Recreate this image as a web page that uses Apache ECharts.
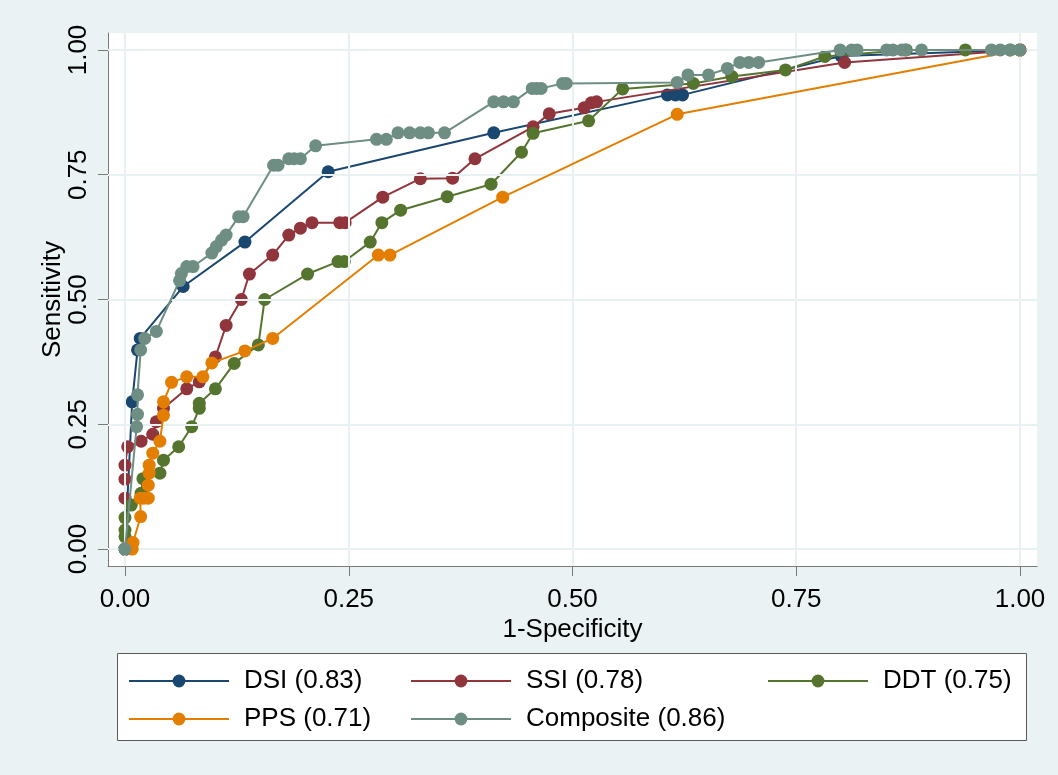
<!DOCTYPE html>
<html><head><meta charset="utf-8">
<script src="https://cdn.jsdelivr.net/npm/echarts@6/dist/echarts.min.js"></script>
<style>html,body{margin:0;padding:0;background:#eaf2f3}#c{width:1058px;height:775px}</style>
</head><body><div id="c"></div>
<script>
const tickValues = [0, 0.25, 0.5, 0.75, 1];
const seriesNames = ['DSI (0.83)', 'SSI (0.78)', 'DDT (0.75)', 'PPS (0.71)', 'Composite (0.86)'];
const seriesColors = ['#1a476f', '#90353b', '#55752f', '#e37e00', '#6e8e84'];

const dsiX = [0, 0.008, 0.014, 0.017, 0.065, 0.134, 0.227, 0.412, 0.606, 0.615, 0.623, 0.80, 1.0];
const dsiY = [0, 0.295, 0.399, 0.422, 0.526, 0.615, 0.756, 0.834, 0.910, 0.910, 0.910, 0.988, 1.0];

const ssiX = [0, 0, 0, 0, 0.003, 0.018, 0.031, 0.035, 0.043, 0.069, 0.083, 0.101, 0.113, 0.130, 0.139, 0.165, 0.183, 0.196, 0.209, 0.240, 0.246, 0.288, 0.330, 0.366, 0.391, 0.456, 0.474, 0.513, 0.521, 0.527, 0.804, 1.0];
const ssiY = [0, 0.102, 0.140, 0.168, 0.205, 0.216, 0.230, 0.255, 0.282, 0.321, 0.335, 0.385, 0.448, 0.500, 0.551, 0.589, 0.629, 0.643, 0.654, 0.654, 0.654, 0.705, 0.742, 0.743, 0.782, 0.846, 0.872, 0.884, 0.894, 0.896, 0.975, 1.0];

const ddtX = [0, 0, 0, 0, 0.007, 0.018, 0.020, 0.039, 0.043, 0.060, 0.0745, 0.083, 0.083, 0.101, 0.122, 0.149, 0.156, 0.204, 0.238, 0.245, 0.274, 0.287, 0.308, 0.360, 0.409, 0.443, 0.456, 0.518, 0.556, 0.635, 0.678, 0.738, 0.782, 0.873, 0.939, 0.989, 1.0];
const ddtY = [0, 0.025, 0.038, 0.063, 0.088, 0.112, 0.141, 0.152, 0.178, 0.205, 0.245, 0.282, 0.292, 0.321, 0.372, 0.409, 0.500, 0.551, 0.576, 0.576, 0.615, 0.654, 0.679, 0.706, 0.731, 0.795, 0.833, 0.858, 0.922, 0.933, 0.947, 0.960, 0.987, 1.0, 1.0, 1.0, 1.0];

const ppsX = [0.008, 0.009, 0.0175, 0.017, 0.021, 0.026, 0.026, 0.027, 0.027, 0.031, 0.039, 0.043, 0.043, 0.052, 0.069, 0.087, 0.097, 0.134, 0.165, 0.283, 0.296, 0.422, 0.617, 1.0];
const ppsY = [0, 0.013, 0.065, 0.102, 0.102, 0.102, 0.128, 0.152, 0.168, 0.192, 0.216, 0.268, 0.295, 0.334, 0.345, 0.345, 0.373, 0.397, 0.422, 0.589, 0.589, 0.705, 0.871, 1.0];

const compX = [0, 0.013, 0.014, 0.014, 0.0175, 0.022, 0.035, 0.061, 0.063, 0.069, 0.076, 0.097, 0.102, 0.108, 0.113, 0.127, 0.132, 0.166, 0.171, 0.183, 0.189, 0.196, 0.213, 0.281, 0.292, 0.305, 0.318, 0.330, 0.339, 0.357, 0.412, 0.423, 0.434, 0.455, 0.460, 0.465, 0.489, 0.493, 0.617, 0.629, 0.652, 0.673, 0.687, 0.697, 0.708, 0.799, 0.812, 0.818, 0.851, 0.858, 0.868, 0.872, 0.890, 0.968, 0.978, 0.989, 1.0];
const compY = [0, 0.245, 0.270, 0.309, 0.399, 0.422, 0.436, 0.538, 0.552, 0.566, 0.566, 0.593, 0.606, 0.619, 0.629, 0.666, 0.666, 0.769, 0.769, 0.782, 0.782, 0.782, 0.808, 0.821, 0.821, 0.834, 0.834, 0.834, 0.834, 0.834, 0.896, 0.896, 0.896, 0.923, 0.923, 0.923, 0.933, 0.933, 0.935, 0.950, 0.950, 0.963, 0.975, 0.975, 0.975, 1.0, 1.0, 1.0, 1.0, 1.0, 1.0, 1.0, 1.0, 1.0, 1.0, 1.0, 1.0];

const allX = [dsiX, ssiX, ddtX, ppsX, compX];
const allY = [dsiY, ssiY, ddtY, ppsY, compY];

const FONT = "'Liberation Sans', Arial, sans-serif";
const pairs = (xs, ys) => xs.map((x, i) => [x, ys[i]]);
const fmt = v => Number(v).toFixed(2);

const gridColor = '#e8f0f2';
const axisColor = '#7a7a7a';

const series = [{
  type: 'line', data: [], silent: true, z: 0,
  markLine: {
    silent: true, symbol: ['none', 'none'], label: { show: false },
    lineStyle: { color: gridColor, width: 2, type: 'solid' },
    emphasis: { disabled: true },
    data: tickValues.map(v => ({ xAxis: v })).concat(tickValues.map(v => ({ yAxis: v })))
  }
}];
seriesNames.forEach((n, i) => {
  series.push({
    name: n, type: 'line', data: pairs(allX[i], allY[i]),
    symbol: 'circle', symbolSize: 13, showAllSymbol: true,
    lineStyle: { width: 2, color: seriesColors[i] },
    itemStyle: { color: seriesColors[i] },
    emphasis: { disabled: true }, z: 2 + i
  });
});

const legendLeft = [128, 410, 767, 128, 410];
const legendTop = [668, 668, 668, 706, 706];
const legends = seriesNames.map((n, i) => ({
  data: [n], left: legendLeft[i], top: legendTop[i], orient: 'horizontal',
  itemWidth: 100, itemHeight: 16, padding: 0, selectedMode: false,
  textStyle: { fontSize: 26, color: '#000', fontFamily: FONT, padding: [0, 0, 0, 10] }
}));

const chart = echarts.init(document.getElementById('c'), null, { renderer: 'canvas' });
chart.setOption({
  animation: false,
  backgroundColor: '#eaf2f3',
  textStyle: { fontFamily: FONT },
  graphic: [
    { type: 'rect', shape: { x: 108, y: 33, width: 929, height: 533 }, style: { fill: '#ffffff' }, z: -10, silent: true },
    { type: 'rect', shape: { x: 117.5, y: 653.5, width: 909, height: 87 }, style: { fill: '#ffffff', stroke: '#5a5a5a', lineWidth: 1 }, z: -10, silent: true }
  ],
  grid: { left: 108, right: 21, top: 33, bottom: 209, containLabel: false },
  legend: legends,
  xAxis: {
    type: 'value', min: -0.019, max: 1.019,
    name: '1-Specificity', nameLocation: 'middle', nameGap: 51, nameMoveOverlap: false,
    nameTextStyle: { fontSize: 26, color: '#000', fontFamily: FONT },
    axisLine: { show: true, onZero: false, lineStyle: { color: axisColor, width: 1 } },
    axisTick: { show: true, inside: false, length: 10, customValues: tickValues, lineStyle: { color: axisColor } },
    axisLabel: { customValues: tickValues, formatter: fmt, fontSize: 26, color: '#000', margin: 21, fontFamily: FONT },
    splitLine: { show: false }
  },
  yAxis: {
    type: 'value', min: -0.034, max: 1.034,
    name: 'Sensitivity', nameLocation: 'middle', nameRotate: 90, nameGap: 42, nameMoveOverlap: false,
    nameTextStyle: { fontSize: 26, color: '#000', fontFamily: FONT },
    axisLine: { show: true, onZero: false, lineStyle: { color: axisColor, width: 1 } },
    axisTick: { show: true, inside: false, length: 10, customValues: tickValues, lineStyle: { color: axisColor } },
    axisLabel: { customValues: tickValues, formatter: fmt, fontSize: 26, color: '#000', margin: 16, rotate: 90, fontFamily: FONT },
    splitLine: { show: false }
  },
  series: series
});
</script></body></html>
